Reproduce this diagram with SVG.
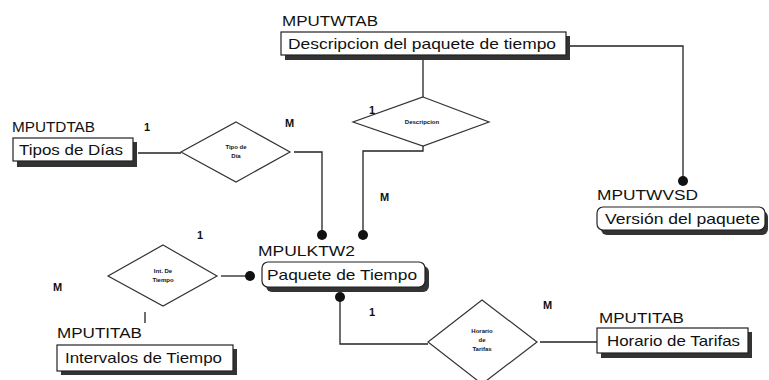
<svg xmlns="http://www.w3.org/2000/svg" width="769" height="380" viewBox="0 0 769 380">
<style>
.bg{fill:#fff}
.box{fill:#fff;stroke:#222;stroke-width:1.2}
.sh{fill:#333}
.lbl{font-family:"Liberation Sans",Arial,sans-serif;font-size:14px;fill:#111}
.bt{font-family:"Liberation Sans",Arial,sans-serif;font-size:15px;fill:#111}
.card{font-family:"Liberation Sans",Arial,sans-serif;font-size:11px;font-weight:bold;fill:#111}
.dt{font-family:"Liberation Sans",Arial,sans-serif;font-size:6px;font-weight:bold;fill:#111;text-anchor:middle}
.dia{fill:#fff;stroke:#333;stroke-width:1.2}
.ln{fill:none;stroke:#222;stroke-width:1.3}
.dot{fill:#111}
</style>
<rect class="bg" x="0" y="0" width="769" height="380"/>
<g id="connectors">
<polyline class="ln" points="566,46 683,46 683,181"/>
<line class="ln" x1="423" y1="56" x2="423" y2="97"/>
<polyline class="ln" points="423,145 423,151 363,151 363,235"/>
<line class="ln" x1="138" y1="153" x2="181" y2="153"/>
<polyline class="ln" points="294,152 322,152 322,235"/>
<line class="ln" x1="221" y1="276" x2="250" y2="276"/>
<line class="ln" x1="145" y1="312" x2="145" y2="323"/>
<polyline class="ln" points="340,297 340,344 428,344"/>
<line class="ln" x1="540" y1="342" x2="597" y2="342"/>
<circle class="dot" cx="683" cy="181" r="5"/>
<circle class="dot" cx="363" cy="235" r="5"/>
<circle class="dot" cx="322" cy="235" r="5"/>
<circle class="dot" cx="250" cy="276" r="5"/>
<circle class="dot" cx="340" cy="297" r="5"/>
</g>
<g id="MPUTWTAB">
<text class="lbl" x="282" y="26" textLength="96" lengthAdjust="spacingAndGlyphs">MPUTWTAB</text>
<rect class="sh" x="285" y="36" width="285" height="24"/>
<rect class="box" x="281" y="32" width="285" height="23"/>
<text class="bt" x="288" y="49" textLength="268" lengthAdjust="spacingAndGlyphs">Descripcion del paquete de tiempo</text>
</g>
<g id="MPUTDTAB">
<text class="lbl" x="12" y="132" textLength="83" lengthAdjust="spacingAndGlyphs">MPUTDTAB</text>
<rect class="sh" x="17" y="142" width="120" height="25"/>
<rect class="box" x="13" y="138" width="120" height="23"/>
<text class="bt" x="19" y="155" textLength="104" lengthAdjust="spacingAndGlyphs">Tipos de Días</text>
</g>
<g id="MPUTWVSD">
<text class="lbl" x="597" y="200" textLength="101" lengthAdjust="spacingAndGlyphs">MPUTWVSD</text>
<rect class="sh" x="601" y="211" width="167" height="24" rx="6"/>
<rect class="box" x="597" y="207" width="168" height="23" rx="6"/>
<text class="bt" x="605" y="224" textLength="155" lengthAdjust="spacingAndGlyphs">Versión del paquete</text>
</g>
<g id="MPULKTW2">
<text class="lbl" x="258" y="256" textLength="97" lengthAdjust="spacingAndGlyphs">MPULKTW2</text>
<rect class="sh" x="266" y="266" width="163" height="26" rx="6"/>
<rect class="box" x="262" y="262" width="163" height="25" rx="6"/>
<text class="bt" x="267" y="280" textLength="150" lengthAdjust="spacingAndGlyphs">Paquete de Tiempo</text>
</g>
<g id="MPUTITAB_left">
<text class="lbl" x="57" y="338" textLength="85" lengthAdjust="spacingAndGlyphs">MPUTITAB</text>
<rect class="sh" x="61" y="349" width="176" height="26"/>
<rect class="box" x="57" y="345" width="176" height="26"/>
<text class="bt" x="65" y="363" textLength="157" lengthAdjust="spacingAndGlyphs">Intervalos de Tiempo</text>
</g>
<g id="MPUTITAB_right">
<text class="lbl" x="599" y="323" textLength="85" lengthAdjust="spacingAndGlyphs">MPUTITAB</text>
<rect class="sh" x="601" y="332" width="151" height="26"/>
<rect class="box" x="597" y="328" width="151" height="25"/>
<text class="bt" x="607" y="346" textLength="133" lengthAdjust="spacingAndGlyphs">Horario de Tarifas</text>
</g>
<g id="rel_descripcion">
<polygon class="dia" points="423,97 489,122 423,146 353,122"/>
<text class="dt" x="422" y="124">Descripcion</text>
</g>
<g id="rel_tipo_dia">
<polygon class="dia" points="236,122 290,152 236,182 181,152"/>
<text class="dt" x="236" y="149">Tipo de</text>
<text class="dt" x="236" y="158">Día</text>
</g>
<g id="rel_int_tiempo">
<polygon class="dia" points="163,245 217,276 163,306 108,276"/>
<text class="dt" x="163" y="273">Int. De</text>
<text class="dt" x="163" y="282">Tiempo</text>
</g>
<g id="rel_horario">
<polygon class="dia" points="482,300 537,342 482,384 428,342"/>
<text class="dt" x="482" y="333">Horario</text>
<text class="dt" x="482" y="342">de</text>
<text class="dt" x="482" y="351">Tarifas</text>
</g>
<g id="cardinalities">
<text class="card" x="144" y="131">1</text>
<text class="card" x="285" y="127">M</text>
<text class="card" x="369" y="114">1</text>
<text class="card" x="380" y="201">M</text>
<text class="card" x="197" y="239">1</text>
<text class="card" x="53" y="291">M</text>
<text class="card" x="369" y="316">1</text>
<text class="card" x="543" y="309">M</text>
</g>
</svg>
